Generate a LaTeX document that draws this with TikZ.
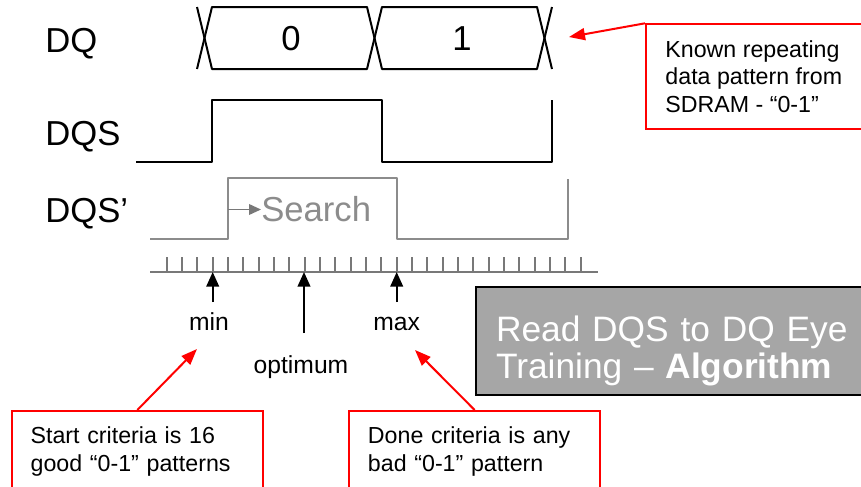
\documentclass[tikz,border=0pt]{standalone}
\usepackage{fontspec}
\setmainfont{Liberation Sans}
\usetikzlibrary{arrows.meta}
\definecolor{callred}{RGB}{255,0,0}
\definecolor{sgray}{RGB}{140,140,140}
\definecolor{tgray}{RGB}{120,120,120}
\definecolor{boxgray}{RGB}{166,166,166}
\tikzset{every picture/.style={x=0.75pt,y=-0.75pt}}
\tikzset{sig/.style={line width=1.5pt,line join=round}}
\tikzset{ghost/.style={sig,sgray}}
\tikzset{ruler/.style={line width=1.5pt,tgray}}
\tikzset{siglabel/.style={font=\fontsize{26}{30}\selectfont,inner sep=0pt,anchor=base west}}
\tikzset{bit/.style={font=\fontsize{26}{30}\selectfont,inner sep=0pt,anchor=base}}
\tikzset{marker/.style={font=\fontsize{18.5}{22}\selectfont,inner sep=0pt,anchor=base}}
\tikzset{uparrow/.style={line width=1.5pt,-{Triangle[length=11pt,width=9.5pt]}}}
\tikzset{redarrow/.style={callred,line width=1.5pt,-{Triangle[length=12pt,width=9pt]}}}
\tikzset{callout/.style={draw=callred,line width=1.5pt,anchor=north west,font=\fontsize{17.4}{20.7}\selectfont,align=left}}

\begin{document}
\begin{tikzpicture}
\useasboundingbox (0,0) rectangle (861,486);
\clip (0,0) rectangle (861,486);
% signal names
\node[siglabel] (dq) at (45,52) {DQ};
\node[siglabel] (dqs) at (45,145) {DQS};
\node[siglabel] (dqsp) at (45,222) {DQS’};
% data bus
\draw[sig] (197,7) -- (212,69) -- (367,69) -- (382,7) -- (537,7) -- (552,69);
\draw[sig] (197,69) -- (212,7) -- (367,7) -- (382,69) -- (537,69) -- (552,7);
\node[bit] (bit0) at (291,50) {0};
\node[bit] (bit1) at (462,50) {1};
% strobes
\draw[sig] (136,162) -- (212,162) -- (212,100) -- (382,100) -- (382,162) -- (552,162) -- (552,100);
\draw[ghost] (150,239) -- (228,239) -- (228,178) -- (397,178) -- (397,239) -- (568,239) -- (568,179);
\coordinate (srchfrom) at (228,209.5);
\node[siglabel,sgray] (search) at (261,221) {Search};
\draw[ghost,tgray,line width=1.2pt,-{Triangle[length=9pt,width=8pt]}] (srchfrom) -- (search.west |- srchfrom);
% delay taps
\draw[ruler] (150,272) -- (598,272);
\foreach \k in {0,...,27}
  \draw[ruler] (166.7+15.33*\k,272) -- ++(0,-15);
\coordinate (minpt) at (212.7,272);
\coordinate (optpt) at (304,272);
\coordinate (maxpt) at (396.7,272);
\coordinate (mintail) at (212.7,302);
\coordinate (opttail) at (304,333);
\coordinate (maxtail) at (396.7,302);
\draw[uparrow] (mintail) -- (minpt);
\draw[uparrow] (opttail) -- (optpt);
\draw[uparrow] (maxtail) -- (maxpt);
\node[marker] (min) at (209,330) {min};
\node[marker] (opt) at (301,373) {optimum};
\node[marker] (max) at (396.7,330) {max};
% title
\node[draw,line width=1.5pt,fill=boxgray,text=white,anchor=north west,minimum height=81pt,
  text width=290pt,text height=34pt,inner xsep=15pt,align=left,font=\fontsize{26.5}{28}\selectfont] (title)
  at (475,286) {Read DQS to DQ Eye\\Training – \textbf{Algorithm}};
% callouts
\node[callout,minimum width=161pt,minimum height=78.3pt,inner xsep=14.6pt] (known)
  at (645,23.3) {Known repeating\\data pattern from\\SDRAM - “0-1”};
\node[callout,text width=160pt,inner xsep=14pt,inner ysep=12pt] (start)
  at (11,410) {Start criteria is 16\\good “0-1” patterns};
\node[callout,text width=160pt,inner xsep=14pt,inner ysep=12pt] (done)
  at (348.3,410) {Done criteria is any\\bad “0-1” pattern};
\coordinate (dqend) at (569,37);
\coordinate (minref) at (197,349);
\coordinate (maxref) at (415,350);
\draw[redarrow] (known.north west) -- (dqend);
\draw[redarrow] (start.north) -- (minref);
\draw[redarrow] (done.north) -- (maxref);
\end{tikzpicture}
\end{document}
